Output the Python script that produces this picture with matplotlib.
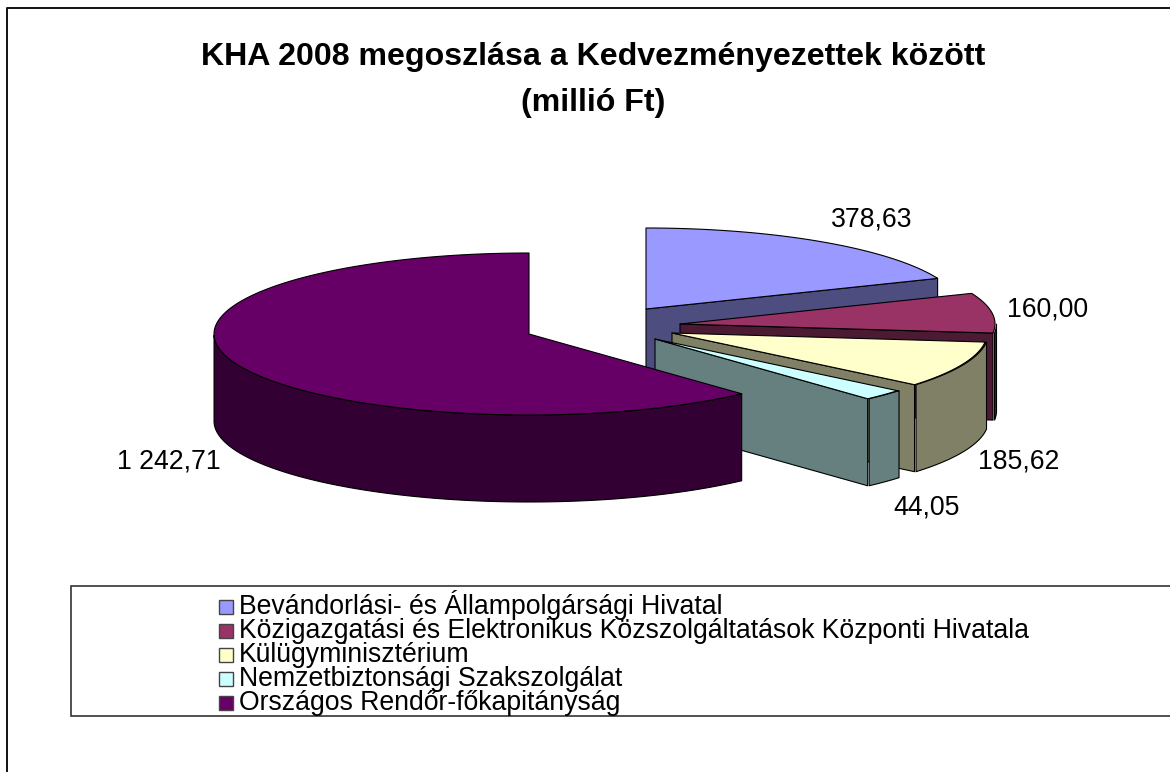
import numpy as np
import matplotlib
matplotlib.use("Agg")
import matplotlib.pyplot as plt
from matplotlib.patches import Polygon, Rectangle

plt.rcParams['font.family'] = ['Liberation Sans', 'DejaVu Sans']

categories = ["Bevándorlási- és Állampolgársági Hivatal",
              "Közigazgatási és Elektronikus Közszolgáltatások Központi Hivatala",
              "Külügyminisztérium",
              "Nemzetbiztonsági Szakszolgálat",
              "Országos Rendőr-főkapitányság"]
values = [378.63, 160.00, 185.62, 44.05, 1242.71]
value_labels = ["378,63", "160,00", "185,62", "44,05", "1 242,71"]
top_colors = ["#9999FF", "#993366", "#FFFFCC", "#CCFFFF", "#660066"]
side_colors = ["#4D4D80", "#4D1A33", "#808066", "#668080", "#330033"]
title = "KHA 2008 megoszlása a Kedvezményezettek között\n(millió Ft)"

W, H = 1170, 772
fig = plt.figure(figsize=(W / 100, H / 100), dpi=100)
ax = fig.add_axes([0, 0, 1, 1])
ax.set_xlim(0, W)
ax.set_ylim(H, 0)
ax.axis("off")

# outer frame
ax.plot([1170, 7, 7], [8, 8, 772], color="#111111", lw=1.4, clip_on=False)

# title
ax.text(593, 80, title, ha="center", va="center", fontsize=23.1, fontweight="bold",
        linespacing=1.72)

# 3D pie geometry
rx, ry, depth = 315, 81, 87
apexes = [(646, 309), (680, 324), (672, 333), (655, 339), (529, 334)]
gap = 1.5
edge = dict(edgecolor="black", linewidth=0.8, joinstyle="round")


def rim(cx, cy, t):
    return cx + rx * np.sin(t), cy - ry * np.cos(t)


angles = np.concatenate([[0], np.cumsum(values)]) / np.sum(values) * 2 * np.pi
for i in range(len(values)):
    cx, cy = apexes[i]
    a0, a1 = angles[i], angles[i + 1]
    t = np.linspace(a0, a1, 160)
    x, y = rim(cx, cy, t)
    # cut face from the apex to the end of the slice
    if i < len(values) - 1:
        ex, ey = rim(cx, cy, a1)
        ax.add_patch(Polygon([(cx, cy), (ex, ey), (ex, ey + depth), (cx, cy + depth)],
                             facecolor=side_colors[i], **edge))
    # outer wall, only the part turned to the viewer
    front = np.cos(t) <= 0
    if front.any():
        fx, fy = x[front], y[front]
        shift = gap if i < len(values) - 1 else 0
        pts = np.column_stack([np.r_[fx, fx[::-1]] + shift, np.r_[fy, fy[::-1] + depth]])
        ax.add_patch(Polygon(pts, facecolor=side_colors[i], **edge))
    # top surface
    pts = np.column_stack([np.r_[cx, x], np.r_[cy, y]])
    ax.add_patch(Polygon(pts, facecolor=top_colors[i], **edge))

# value labels
label_pos = [(872, 220), (1048, 309), (1019, 462), (927, 507), (169, 461)]
for s, (lx, ly) in zip(value_labels, label_pos):
    ax.text(lx, ly, s, ha="center", va="center", fontsize=19.2, color="black")

# legend
ax.add_patch(Rectangle((71, 586), 1105, 130, facecolor="white", edgecolor="#333333",
                       linewidth=1.2, clip_on=True))
rows = 607 + 24 * np.arange(len(categories))
for yy, name, col in zip(rows, categories, top_colors):
    ax.add_patch(Rectangle((219, yy - 7), 14, 14, facecolor=col, edgecolor="#444444", linewidth=1.0))
    ax.text(239, yy + 7.5, name, ha="left", va="baseline", fontsize=19.2, color="black")

fig.savefig("out.png", dpi=100)
